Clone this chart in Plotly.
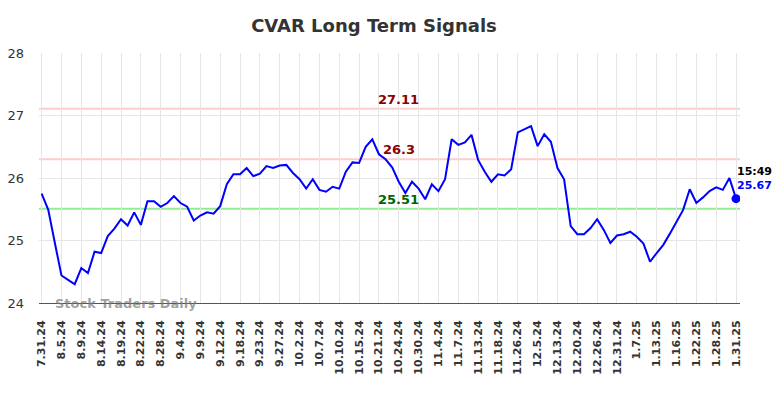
import plotly.graph_objects as go

tick_labels = ["7.31.24", "8.5.24", "8.9.24", "8.14.24", "8.19.24", "8.22.24", "8.28.24", "9.4.24",
               "9.9.24", "9.12.24", "9.18.24", "9.23.24", "9.27.24", "10.2.24", "10.7.24", "10.10.24",
               "10.15.24", "10.21.24", "10.24.24", "10.30.24", "11.4.24", "11.7.24", "11.13.24",
               "11.18.24", "11.26.24", "12.5.24", "12.13.24", "12.20.24", "12.26.24", "12.31.24",
               "1.7.25", "1.13.25", "1.16.25", "1.22.25", "1.28.25", "1.31.25"]

prices = [25.75, 25.49, 24.96, 24.44, 24.37, 24.30, 24.56, 24.48, 24.82, 24.80,
          25.07, 25.19, 25.34, 25.24, 25.45, 25.25, 25.63, 25.63, 25.54, 25.60,
          25.71, 25.60, 25.54, 25.32, 25.40, 25.45, 25.43, 25.55, 25.90, 26.06,
          26.06, 26.16, 26.03, 26.07, 26.19, 26.16, 26.20, 26.21, 26.08, 25.98,
          25.83, 25.98, 25.81, 25.78, 25.86, 25.83, 26.10, 26.25, 26.24, 26.50,
          26.62, 26.38, 26.30, 26.17, 25.94, 25.76, 25.94, 25.83, 25.66, 25.90,
          25.79, 25.98, 26.62, 26.53, 26.57, 26.69, 26.29, 26.10, 25.94, 26.06,
          26.04, 26.14, 26.73, 26.78, 26.83, 26.51, 26.70, 26.58, 26.16, 25.98,
          25.23, 25.10, 25.10, 25.20, 25.34, 25.17, 24.96, 25.08, 25.10, 25.14,
          25.06, 24.95, 24.66, 24.80, 24.93, 25.11, 25.29, 25.49, 25.82, 25.60,
          25.69, 25.79, 25.85, 25.81, 26.00, 25.67]

upper_res = 27.11
mid_res = 26.3
support = 25.51
last_time = "15:49"

x_idx = list(range(len(prices)))
tick_vals = [i * 3 for i in range(len(tick_labels))]

FONT = "DejaVu Sans"

fig = go.Figure()
fig.add_trace(go.Scatter(x=x_idx, y=prices, mode="lines",
                         line=dict(color="#0000ff", width=2), hoverinfo="y"))
fig.add_trace(go.Scatter(x=[x_idx[-1]], y=[prices[-1]], mode="markers",
                         marker=dict(color="#0000ff", size=9), hoverinfo="y"))

for lvl, col in [(upper_res, "#ffcccc"), (mid_res, "#ffcccc"), (support, "#90ee90")]:
    fig.add_hline(y=lvl, line=dict(color=col, width=2), layer="below")

mid_x = 54
for lvl, col in [(upper_res, "#8b0000"), (mid_res, "#8b0000"), (support, "#006400")]:
    fig.add_annotation(x=mid_x, y=lvl, text=f"<b>{lvl:g}</b>", showarrow=False,
                       yanchor="bottom", yshift=0, font=dict(family=FONT, size=13, color=col))

fig.add_annotation(x=x_idx[-1], y=prices[-1], text=f"<b>{last_time}</b>", showarrow=False,
                   xanchor="left", yanchor="bottom", xshift=-1, yshift=19,
                   font=dict(family=FONT, size=11, color="#000000"))
fig.add_annotation(x=x_idx[-1], y=prices[-1], text=f"<b>{prices[-1]:.2f}</b>", showarrow=False,
                   xanchor="left", yanchor="bottom", xshift=-1, yshift=5,
                   font=dict(family=FONT, size=11, color="#0000ff"))

fig.add_annotation(xref="paper", yref="paper", x=0.02, y=0.0, text="<b>Stock Traders Daily</b>",
                   showarrow=False, xanchor="left", yanchor="middle",
                   font=dict(family=FONT, size=13, color="rgba(120,120,120,0.7)"))

fig.update_layout(
    width=784, height=398,
    margin=dict(l=39, r=44, t=53, b=95, autoexpand=False),
    paper_bgcolor="white", plot_bgcolor="white",
    showlegend=False,
    title=dict(text="<b>CVAR Long Term Signals</b>", x=0.477, xanchor="center",
               y=1 - 26 / 398, yref="container", yanchor="middle",
               font=dict(family=FONT, size=18, color="#333333")),
    font=dict(family=FONT, color="#333333"),
)
fig.update_xaxes(range=[-0.4, len(prices) - 0.4], tickvals=tick_vals, ticktext=tick_labels,
                 tickangle=-90, showgrid=True, gridcolor="#e6e6e6", gridwidth=1,
                 showline=True, linecolor="#555555", linewidth=1, zeroline=False,
                 ticks="", ticklabelstandoff=12, automargin=False,
                 tickfont=dict(family=FONT, size=11, color="#333333", weight="bold"))
fig.update_yaxes(range=[24, 28], tickvals=[24, 25, 26, 27, 28], showgrid=True,
                 gridcolor="#e6e6e6", gridwidth=1, zeroline=False, ticks="",
                 ticklabelstandoff=14, automargin=False,
                 tickfont=dict(family=FONT, size=13, color="#333333"))

fig.write_html("out.html", config={"displayModeBar": False},
               post_script="document.body.style.margin='0';document.body.style.overflow='hidden';")
